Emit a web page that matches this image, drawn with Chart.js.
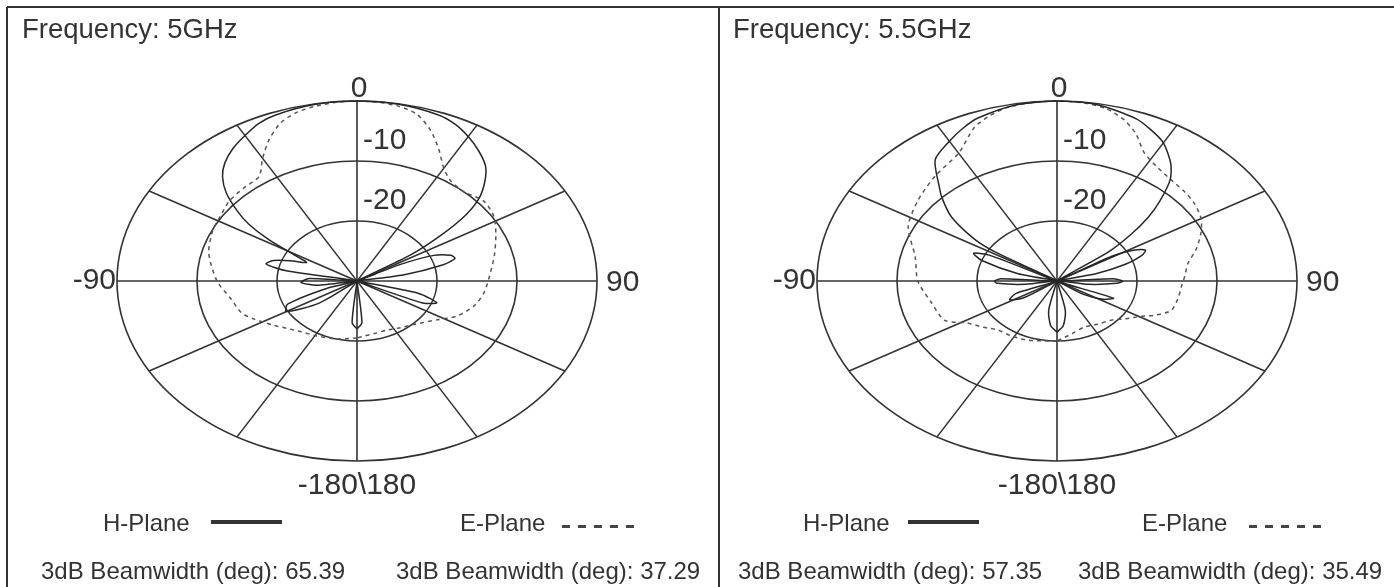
<!DOCTYPE html>
<html><head><meta charset="utf-8">
<script src="https://cdn.jsdelivr.net/npm/chart.js@4.4.1/dist/chart.umd.min.js"></script>
<style>
html,body{margin:0;padding:0;background:#fff;}
body{width:1394px;height:587px;position:relative;overflow:hidden;font-family:"Liberation Sans",Arial,sans-serif;color:#333;}
.ln{position:absolute;background:#333;}
canvas{position:absolute;}
.t{position:absolute;white-space:nowrap;line-height:1;}
.title{font-size:27.5px;}
.leg{font-size:24px;}
.solid{position:absolute;height:4px;background:#333;}
.dash{position:absolute;height:3px;background:repeating-linear-gradient(to right,#444 0 8px,transparent 8px 16px);}
</style></head><body>
<div class="ln" style="left:7px;top:6px;width:1387px;height:2px"></div>
<div class="ln" style="left:6px;top:7px;width:2px;height:580px"></div>
<div class="ln" style="left:718px;top:7px;width:2px;height:580px"></div>

<canvas id="c1" width="710" height="579" style="left:8px;top:8px;width:710px;height:579px"></canvas>
<canvas id="c2" width="674" height="579" style="left:720px;top:8px;width:674px;height:579px"></canvas>

<div class="t title" style="left:22px;top:15px">Frequency: 5GHz</div>
<div class="t title" style="left:733px;top:15px">Frequency: 5.5GHz</div>

<div class="t leg" style="left:103px;top:511px">H-Plane</div>
<div class="solid" style="left:211px;top:520px;width:71px"></div>
<div class="t leg" style="left:460px;top:511px">E-Plane</div>
<div class="dash" style="left:562px;top:525px;width:72px"></div>
<div class="t leg" style="left:41px;top:559px">3dB Beamwidth (deg): 65.39</div>
<div class="t leg" style="left:396px;top:559px">3dB Beamwidth (deg): 37.29</div>

<div class="t leg" style="left:803px;top:511px">H-Plane</div>
<div class="solid" style="left:908px;top:520px;width:71px"></div>
<div class="t leg" style="left:1142px;top:511px">E-Plane</div>
<div class="dash" style="left:1249px;top:525px;width:72px"></div>
<div class="t leg" style="left:738px;top:559px">3dB Beamwidth (deg): 57.35</div>
<div class="t leg" style="left:1078px;top:559px">3dB Beamwidth (deg): 35.49</div>

<script>
// ---- scale definition ----
const RMIN = -30;                       // centre of the plot (dB)
const ringLevels = [0, -10, -20];       // grid rings (dB)
const ringTickLabels = ['0', '-10', '-20'];
const spokeAngles = [0, 30, 60, 90, 120, 150];
const angleLabels = ['-90', '90', '-180\\180'];

// ---- 5 GHz ----
const h5Angles = [-180,-175,-168,-135,-128,-120,-114,-108,-104,-98,-92,-86,-82,-79,-76,-72,-68,-64,-61,-58,-55,-52,-48,-44,-40,-35,-30,-25,-20,-10,0,10,20,25,30,35,40,44,48,51,54,57,60,63,66,70,73,76,80,84,100,105,110,114,118,168,175,180];
const h5Gain   = [-22,-23,-30,-30,-24,-19.8,-20.5,-26,-30,-25,-23,-24,-30,-21,-18.3,-19,-21,-23,-21,-17,-13.5,-11,-8,-5.8,-4.3,-3,-2,-1,-0.5,-0.1,0,-0.1,-0.5,-1.1,-2.2,-3.5,-5,-7,-9.5,-12.5,-17,-22,-30,-24,-19.5,-17.5,-17.2,-19,-24,-30,-30,-22,-19.4,-21,-30,-30,-23,-22];
const e5Angles = [-180,-165,-150,-140,-132,-125,-116,-110,-101,-90,-76,-65,-58,-50,-42,-35,-30,-25,-20,-15,-10,-5,0,5,10,15,20,25,30,35,42,50,58,66,76,87,97,106,115,123,135,145,155,165,180];
const e5Gain   = [-20.5,-20,-19.5,-19,-18.2,-17.2,-15.6,-14.6,-14,-12.5,-10.9,-10.1,-9.8,-9.2,-9.0,-8.7,-6.4,-4,-2,-0.9,-0.4,-0.1,0,-0.1,-0.4,-1.2,-3.2,-5.8,-8.3,-9.6,-10,-9.3,-9.8,-11,-12.3,-13.4,-14,-14.8,-16.2,-18.1,-19.8,-20.5,-21,-21,-20.5];

// ---- 5.5 GHz ----
const h55Angles = [-180,-174,-168,-163,-130,-124,-118,-112,-106,-98,-93,-90,-87,-82,-76,-70,-66,-63,-60,-58,-56,-51,-46,-43,-37,-30,-25,-20,-10,0,10,20,25,30,36,40,44,47,50,53,56,59,62,65,68,72,76,82,87,90,93,98,106,112,118,124,130,163,168,174,180];
const h55Gain   = [-21.5,-22.5,-25,-30,-30,-25,-23.3,-24.5,-30,-26,-22.5,-22.2,-23,-30,-25,-20,-18.6,-20.5,-30,-21,-17.6,-13,-10,-8.4,-4.7,-3.1,-2,-1.1,-0.2,0,-0.2,-1.2,-2.2,-3.4,-5.8,-8,-11.5,-14.4,-18,-22,-30,-22,-19,-17.8,-18.5,-21,-25,-30,-23,-21.8,-22.5,-26,-30,-22.4,-23.5,-26,-30,-30,-25,-22.5,-21.5];
const e55Angles = [-180,-168,-157,-147,-138,-130,-122,-115,-103,-90,-77,-64,-52,-41,-30,-22,-17,-12,-6,0,6,12,17.5,22,27,33,40,47,53,60,66,73,80,87,93,101,109,115,119,126,134,145,156,168,180];
const e55Gain   = [-20,-19.8,-19.4,-19.2,-19,-18,-16.8,-14.5,-13.9,-12.6,-11.8,-9.3,-8,-6.8,-5.4,-2.4,-1.2,-0.4,-0.1,0,-0.1,-0.6,-1.9,-3.6,-6,-7.2,-7.9,-8.2,-8.5,-9.2,-10.3,-11.8,-13.4,-14,-14.4,-14.6,-14.9,-16.5,-17.9,-19.3,-20.6,-21.2,-21.6,-21,-20];

const D2R = Math.PI / 180;
function toXY(angles, gains) {
  return angles.map((a, i) => {
    const r = gains[i] - RMIN;
    return { x: r * Math.sin(a * D2R), y: r * Math.cos(a * D2R) };
  });
}

const GRID = '#333';
const FONT = '30px "Liberation Sans", Arial, sans-serif';

const polarGrid = {
  id: 'polarGrid',
  beforeDatasetsDraw(chart) {
    const { ctx, scales: { x, y } } = chart;
    const cx = x.getPixelForValue(0), cy = y.getPixelForValue(0);
    const R = -RMIN;
    ctx.save();
    ctx.strokeStyle = GRID;
    ctx.lineWidth = 1.6;
    ringLevels.forEach(lv => {
      const r = lv - RMIN;
      ctx.beginPath();
      ctx.ellipse(cx, cy, x.getPixelForValue(r) - cx, cy - y.getPixelForValue(r), 0, 0, Math.PI * 2);
      ctx.stroke();
    });
    spokeAngles.forEach(a => {
      const dx = R * Math.sin(a * D2R), dy = R * Math.cos(a * D2R);
      ctx.beginPath();
      ctx.moveTo(x.getPixelForValue(-dx), y.getPixelForValue(-dy));
      ctx.lineTo(x.getPixelForValue(dx), y.getPixelForValue(dy));
      ctx.stroke();
    });
    ctx.restore();
  },
  afterDatasetsDraw(chart) {
    const { ctx, scales: { x, y } } = chart;
    const cx = x.getPixelForValue(0), cy = y.getPixelForValue(0);
    const R = -RMIN;
    ctx.save();
    ctx.fillStyle = '#333';
    ctx.font = FONT;
    ctx.textBaseline = 'alphabetic';
    ringLevels.forEach((lv, i) => {
      const py = y.getPixelForValue(lv - RMIN);
      if (i === 0) { ctx.textAlign = 'center'; ctx.fillText(ringTickLabels[i], cx + 2, py - 4); }
      else { ctx.textAlign = 'left'; ctx.fillText(ringTickLabels[i], cx + 6, py - 12); }
    });
    ctx.textAlign = 'right';
    ctx.fillText(angleLabels[0], x.getPixelForValue(-R) - 1, cy + 8);
    ctx.textAlign = 'left';
    ctx.fillText(angleLabels[1], x.getPixelForValue(R) + 9, cy + 10);
    ctx.textAlign = 'center';
    ctx.fillText(angleLabels[2], cx, y.getPixelForValue(-R) + 33);
    ctx.restore();
  }
};

function makePanel(id, cxPx, cyPx, W, H, hA, hG, eA, eG) {
  const PX_X = 8, PX_Y = 6; // pixels per dB
  return new Chart(document.getElementById(id), {
    type: 'scatter',
    data: {
      datasets: [
        { label: 'H-Plane', data: toXY(hA, hG), showLine: true, borderColor: '#262626', borderWidth: 1.5, pointRadius: 0, tension: 0.25, fill: false },
        { label: 'E-Plane', data: toXY(eA, eG), showLine: true, borderColor: '#555', borderWidth: 1.5, borderDash: [4, 4], pointRadius: 0, tension: 0.25, fill: false }
      ]
    },
    options: {
      responsive: false, animation: false, events: [],
      layout: { padding: 0, autoPadding: false },
      scales: {
        x: { type: 'linear', display: false, min: -cxPx / PX_X, max: (W - cxPx) / PX_X },
        y: { type: 'linear', display: false, min: -(H - cyPx) / PX_Y, max: cyPx / PX_Y }
      },
      plugins: { legend: { display: false }, tooltip: { enabled: false }, title: { display: false } }
    },
    plugins: [polarGrid]
  });
}

makePanel('c1', 349, 273, 710, 579, h5Angles, h5Gain, e5Angles, e5Gain);
makePanel('c2', 337, 273, 674, 579, h55Angles, h55Gain, e55Angles, e55Gain);
</script>
</body></html>
